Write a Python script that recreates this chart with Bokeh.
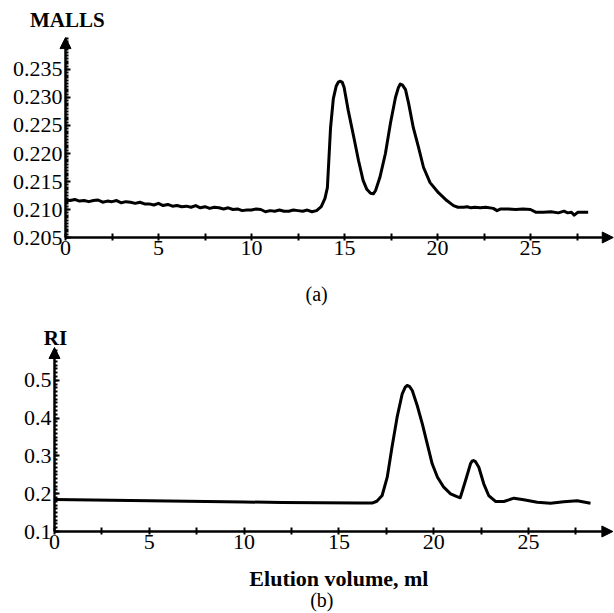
from bokeh.plotting import figure
from bokeh.layouts import column
from bokeh.models import Arrow, NormalHead, FixedTicker, Label, Range1d, PrintfTickFormatter
from bokeh.embed import file_html
from bokeh.resources import INLINE

# ---------------- data ----------------
malls_x = [0.0, 0.25, 0.5, 0.75, 1.0, 1.25, 1.5, 1.75, 2.0, 2.25, 2.5, 2.75, 3.0, 3.25, 3.5, 3.75,
           4.0, 4.25, 4.5, 4.75, 5.0, 5.25, 5.5, 5.75, 6.0, 6.25, 6.5, 6.75, 7.0, 7.25, 7.5, 7.75,
           8.0, 8.25, 8.5, 8.75, 9.0, 9.25, 9.5, 9.75, 10.0, 10.25, 10.5, 10.75, 11.0, 11.25, 11.5,
           11.75, 12.0, 12.25, 12.5, 12.75, 13.0, 13.25, 13.5, 13.75, 13.95, 14.08, 14.25, 14.4,
           14.55, 14.68, 14.78, 14.88, 14.98, 15.2, 15.5, 15.75, 16.0, 16.2, 16.4, 16.55, 16.67,
           16.9, 17.2, 17.47, 17.74, 17.9, 18.0, 18.12, 18.28, 18.45, 18.7, 18.98, 19.25, 19.6,
           20.05, 20.5, 20.86, 21.1, 21.4, 21.6, 21.8, 22.0, 22.3, 22.6, 23.0, 23.2, 23.4, 23.8,
           24.2, 24.6, 25.0, 25.3, 25.7, 26.1, 26.5, 26.8, 27.0, 27.2, 27.35, 27.55, 28.1]
malls_y = [0.2117, 0.2116, 0.2118, 0.2115, 0.2116, 0.2114, 0.2116, 0.2117, 0.2113, 0.2115, 0.2114,
           0.2116, 0.2112, 0.2114, 0.2113, 0.2111, 0.2113, 0.2110, 0.2110, 0.2108, 0.2111, 0.2107,
           0.2109, 0.2106, 0.2107, 0.2105, 0.2106, 0.2104, 0.2107, 0.2103, 0.2105, 0.2102, 0.2104,
           0.2103, 0.2101, 0.2103, 0.2100, 0.2101, 0.2098, 0.2099, 0.2099, 0.2101, 0.2100, 0.2096,
           0.2098, 0.2097, 0.2099, 0.2097, 0.2097, 0.2099, 0.2098, 0.2097, 0.2099, 0.2096, 0.2098,
           0.2105, 0.2120, 0.2139, 0.2246, 0.2298, 0.2320, 0.2328, 0.2329, 0.2327, 0.2318, 0.2277,
           0.2229, 0.2188, 0.2152, 0.2136, 0.2129, 0.2128, 0.2134, 0.2157, 0.2200, 0.2254, 0.2300,
           0.2318, 0.2324, 0.2322, 0.2314, 0.2289, 0.2246, 0.2211, 0.2175, 0.2148, 0.2130, 0.2116,
           0.2107, 0.2104, 0.2104, 0.2105, 0.2103, 0.2104, 0.2103, 0.2104, 0.2102, 0.2098, 0.2101,
           0.2101, 0.2100, 0.2101, 0.2100, 0.2095, 0.2095, 0.2096, 0.2094, 0.2097, 0.2094, 0.2095,
           0.2090, 0.2095, 0.2095]

ri_x = [0.0, 2.0, 4.0, 6.0, 8.0, 10.0, 12.0, 14.0, 16.1, 16.75, 17.0, 17.28, 17.55, 17.8, 18.07,
        18.34, 18.5, 18.6, 18.72, 18.87, 19.13, 19.4, 19.66, 19.92, 20.2, 20.53, 20.89, 21.2, 21.4,
        21.68, 21.94, 22.02, 22.1, 22.2, 22.38, 22.64, 22.9, 23.26, 23.7, 24.23, 24.75, 25.46,
        26.16, 26.86, 27.57, 28.27]
ri_y = [0.1847, 0.1835, 0.1820, 0.1805, 0.1792, 0.1780, 0.1770, 0.1760, 0.1752, 0.1752, 0.1800,
        0.1952, 0.2437, 0.3230, 0.4024, 0.4643, 0.4820, 0.4862, 0.4840, 0.4730, 0.4333, 0.3849,
        0.3320, 0.2791, 0.2437, 0.2172, 0.1997, 0.1930, 0.1892, 0.2349, 0.2791, 0.2860, 0.2878,
        0.2850, 0.2701, 0.2262, 0.1952, 0.1794, 0.1794, 0.1881, 0.1839, 0.1775, 0.1749, 0.1786,
        0.1812, 0.1749]

x_ticks = [0, 5, 10, 15, 20, 25]
x_minor = [2.5, 7.5, 12.5, 17.5, 22.5, 27.5]
malls_ticks = [0.205, 0.210, 0.215, 0.220, 0.225, 0.230, 0.235]
ri_ticks = [0.1, 0.2, 0.3, 0.4, 0.5]

FONT = "Liberation Serif"


def style(p, x0, y0, y_major, y_minor, y_fmt):
    p.xgrid.visible = False
    p.ygrid.visible = False
    p.outline_line_color = None
    p.background_fill_color = "white"
    p.border_fill_color = "white"
    for ax in (p.xaxis[0], p.yaxis[0]):
        ax.axis_line_color = None
        ax.major_label_text_font = FONT
        ax.major_label_text_font_size = "22px"
        ax.major_label_text_color = "black"
        ax.major_tick_line_color = "black"
        ax.minor_tick_line_color = "black"
        ax.major_tick_line_width = 2
        ax.minor_tick_line_width = 2
    xa = p.xaxis[0]
    xa.fixed_location = y0
    xa.ticker = FixedTicker(ticks=x_ticks, minor_ticks=x_minor)
    xa.major_tick_in = 4
    xa.major_tick_out = 3
    xa.minor_tick_in = 4
    xa.minor_tick_out = 3
    xa.major_label_standoff = 0
    ya = p.yaxis[0]
    ya.fixed_location = x0
    ya.ticker = FixedTicker(ticks=y_major, minor_ticks=y_minor)
    ya.formatter = PrintfTickFormatter(format=y_fmt)
    ya.major_tick_in = 5
    ya.major_tick_out = 0
    ya.minor_tick_in = 3
    ya.minor_tick_out = 0
    ya.major_label_standoff = 3


def add_axes_arrows(p, x0, y0, x1, y1):
    p.add_layout(Arrow(end=NormalHead(size=11, fill_color="black", line_color="black", line_width=1),
                       x_start=x0, y_start=y0, x_end=x1, y_end=y0,
                       line_width=2.5, line_color="black"))
    p.add_layout(Arrow(end=NormalHead(size=11, fill_color="black", line_color="black", line_width=1),
                       x_start=x0, y_start=y0, x_end=x0, y_end=y1,
                       line_width=2.5, line_color="black"))


def txt(p, x, y, text, bold=False, size="21px"):
    p.add_layout(Label(x=x, y=y, text=text, text_align="center", text_baseline="middle",
                       text_font=FONT, text_font_size=size,
                       text_font_style="bold" if bold else "normal", text_color="black"))


# ---------------- top: MALLS ----------------
p1 = figure(width=614, height=306, output_backend="svg", toolbar_location=None,
            x_range=Range1d(-3.4946, 29.516), y_range=Range1d(0.192679, 0.247321),
            min_border_left=0, min_border_right=0, min_border_top=0, min_border_bottom=0)
malls_minor = [round(0.205 + 0.0005 * i, 4) for i in range(0, 72)]
style(p1, 0, 0.205, malls_ticks, malls_minor, "%.3f")
p1.line(malls_x, malls_y, line_width=3, line_color="black", line_join="round")
add_axes_arrows(p1, 0, 0.205, 29.45, 0.2407)
txt(p1, 0.1, 0.24375, "MALLS", bold=True, size="21px")
txt(p1, 13.5, 0.19500, "(a)", size="20px")

# ---------------- bottom: RI ----------------
p2 = figure(width=614, height=307, output_backend="svg", toolbar_location=None,
            x_range=Range1d(-2.848, 29.536), y_range=Range1d(-0.11693, 0.69524),
            min_border_left=0, min_border_right=0, min_border_top=0, min_border_bottom=0)
ri_minor = [round(0.1 + 0.01 * i, 3) for i in range(0, 49)]
style(p2, 0, 0.1, ri_ticks, ri_minor, "%.1f")
p2.line(ri_x, ri_y, line_width=3, line_color="black", line_join="round")
add_axes_arrows(p2, 0, 0.1, 29.45, 0.5868)
txt(p2, 0.05, 0.6132, "RI", bold=True, size="21px")
txt(p2, 15.0, -0.0243, "Elution volume, ml", bold=True, size="22px")
txt(p2, 14.1, -0.0800, "(b)", size="20px")

layout = column(p1, p2, spacing=0)
open("out.html", "w").write(file_html(layout, INLINE))
